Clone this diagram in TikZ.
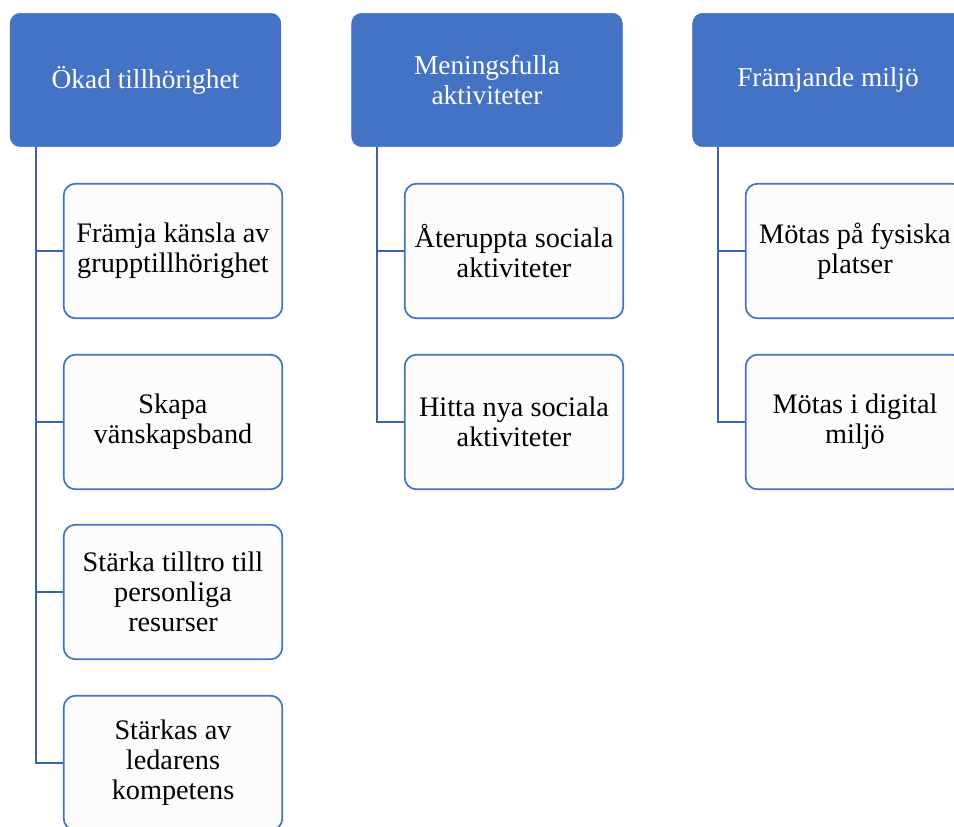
\documentclass[tikz,border=0pt]{standalone}
\usepackage{fontspec}
\setmainfont{Liberation Serif}
\definecolor{headblue}{HTML}{4472C4}
\definecolor{linkblue}{HTML}{3A63AE}
\definecolor{boxfill}{HTML}{FCFCFC}
\begin{document}
\begin{tikzpicture}[x=0.75pt,y=-0.75pt,
  head/.style={fill=headblue,draw=headblue,rounded corners=7.5pt,minimum width=203pt,minimum height=100pt,
    text=white,align=center,font=\fontsize{20.5}{22.5}\selectfont,inner sep=0pt},
  leaf/.style={fill=boxfill,draw=headblue,line width=1.3pt,rounded corners=9pt,minimum width=164pt,minimum height=101pt,
    align=center,font=\fontsize{21.2}{22.5}\selectfont,inner sep=0pt},
  link/.style={draw=linkblue,line width=1.4pt}]
 	\clip (0,0) rectangle (954,827);
 	\node[head] (h1) at (145.5,80) {Ökad tillhörighet};
 	\node[head] (h2) at (487,80) {Meningsfulla\\aktiviteter};
 	\node[head] (h3) at (828,80) {Främjande miljö};
 	\node[leaf] (a1) at (173,251) {Främja känsla av\\grupptillhörighet};
 	\node[leaf] (a2) at (173,422) {Skapa\\vänskapsband};
 	\node[leaf] (a3) at (173,592) {Stärka tilltro till\\personliga\\resurser};
 	\node[leaf] (a4) at (173,763) {Stärkas av\\ledarens\\kompetens};
 	\node[leaf] (b1) at (514,251) {Återuppta sociala\\aktiviteter};
 	\node[leaf] (b2) at (514,422) {Hitta nya sociala\\aktiviteter};
 	\node[leaf] (c1) at (855,251) {Mötas på fysiska\\platser};
 	\node[leaf] (c2) at (855,422) {Mötas i digital\\miljö};
 	\coordinate (r1) at ([xshift=19.5pt]h1.south west);
 	\coordinate (r2) at ([xshift=19.5pt]h2.south west);
 	\coordinate (r3) at ([xshift=19.5pt]h3.south west);
 	\draw[link] (r1) |- (a1.west);
 	\draw[link] (r1) |- (a2.west);
 	\draw[link] (r1) |- (a3.west);
 	\draw[link] (r1) |- (a4.west);
 	\draw[link] (r2) |- (b1.west);
 	\draw[link] (r2) |- (b2.west);
 	\draw[link] (r3) |- (c1.west);
 	\draw[link] (r3) |- (c2.west);
\end{tikzpicture}
\end{document}
